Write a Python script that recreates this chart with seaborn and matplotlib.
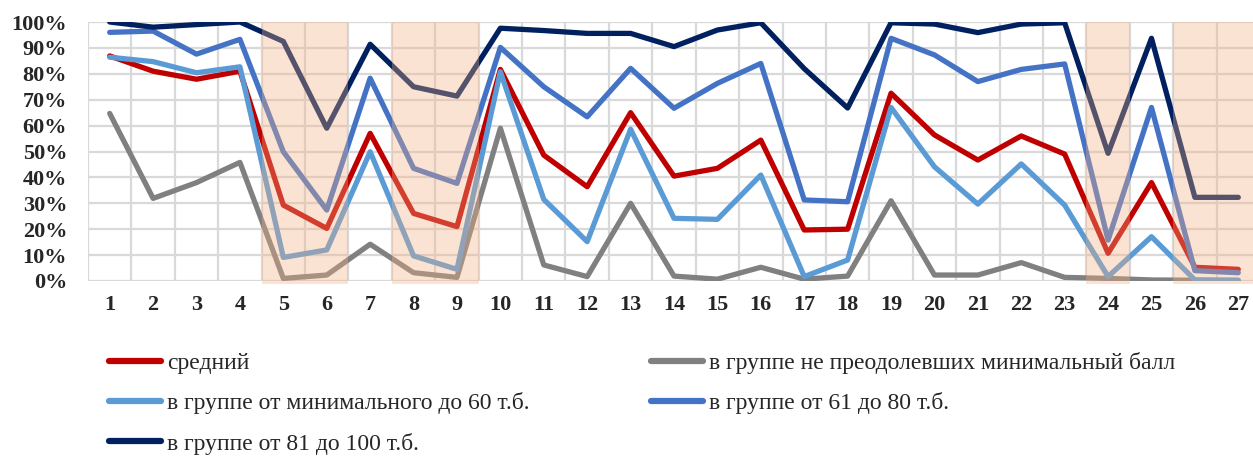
import numpy as np
import pandas as pd
import matplotlib
matplotlib.use('Agg')
import matplotlib.pyplot as plt
from matplotlib.lines import Line2D
import seaborn as sns

# номера заданий
tasks = list(range(1, 28))

srednij = [86.9, 81.0, 77.9, 81.0, 29.3, 20.3, 57.0, 26.1, 21.0, 81.7, 48.6, 36.4, 65.0, 40.5,
           43.5, 54.4, 19.7, 20.0, 72.5, 56.4, 46.7, 56.0, 49.0, 10.7, 38.0, 5.3, 4.5]
ne_preodol = [64.7, 31.9, 38.0, 45.8, 1.0, 2.3, 14.2, 3.2, 1.4, 59.0, 6.2, 1.7, 30.0, 1.9,
              0.7, 5.3, 0.7, 1.9, 31.0, 2.3, 2.3, 7.1, 1.4, 1.0, 0.4, 0.3, 0.2]
ot_min_60 = [86.4, 84.7, 80.4, 82.7, 9.1, 12.0, 49.9, 9.7, 4.5, 80.8, 31.5, 15.2, 58.6, 24.2,
             23.8, 40.9, 1.7, 8.1, 67.0, 44.1, 29.7, 45.2, 29.3, 1.7, 17.1, 0.4, 0.3]
ot_61_80 = [96.0, 96.5, 87.6, 93.3, 49.9, 27.4, 78.3, 43.5, 37.7, 90.2, 75.0, 63.4, 82.1, 66.7,
            76.3, 84.0, 31.3, 30.6, 93.7, 87.3, 77.0, 81.7, 83.8, 15.8, 67.0, 4.0, 3.2]
ot_81_100 = [100.0, 98.0, 99.0, 100.0, 92.5, 59.0, 91.4, 75.0, 71.4, 97.6, 96.7, 95.6, 95.6, 90.5,
             96.9, 99.7, 82.0, 66.8, 99.7, 99.2, 95.9, 99.2, 99.7, 49.3, 93.7, 32.3, 32.3]

# выделенные задания
highlight = [5, 6, 8, 9, 24, 26, 27]

series_names = ['средний',
                'в группе не преодолевших минимальный балл',
                'в группе от минимального до 60 т.б.',
                'в группе от 61 до 80 т.б.',
                'в группе от 81 до 100 т.б.']
colors = ['#C00000', '#808080', '#5B9BD5', '#4472C4', '#002060']

df = pd.DataFrame({'task': tasks * 5,
                   'value': np.array(srednij + ne_preodol + ot_min_60 + ot_61_80 + ot_81_100) / 100,
                   'series': np.repeat(series_names, len(tasks))})

sns.set_style('white')
plt.rcParams['font.family'] = ['Liberation Serif', 'DejaVu Serif']

fig = plt.figure(figsize=(12.53, 4.57), dpi=100)
ax = fig.add_axes([88 / 1253, 1 - 281 / 457, 1172 / 1253, 259 / 457])

sns.lineplot(data=df, x='task', y='value', hue='series', hue_order=series_names,
             palette=colors, linewidth=3.8, sort=False, ax=ax, legend=False, zorder=3)

for t in highlight:
    ax.axvspan(t - 0.5, t + 0.5, ymin=-0.012, ymax=1, color='#F4B183', alpha=0.35,
               lw=0, zorder=5, clip_on=False)

ax.set_xlim(0.5, 27.5)
ax.set_ylim(0, 1)
ax.set_xticks(tasks)
ax.set_xticks(np.arange(0.5, 28, 1), minor=True)
ax.set_yticks(np.arange(0, 1.01, 0.1))
ax.set_yticklabels([f'{int(round(v * 100))}%' for v in np.arange(0, 1.01, 0.1)])
ax.grid(axis='y', which='major', color='#D9D9D9', lw=1.6, zorder=0)
ax.grid(axis='x', which='minor', color='#D9D9D9', lw=1.6, zorder=0)
ax.grid(axis='x', which='major', visible=False)
ax.tick_params(axis='both', which='both', length=0)
ax.tick_params(axis='y', pad=15, labelsize=16)
ax.tick_params(axis='x', pad=10, labelsize=16)
for lbl in ax.get_xticklabels() + ax.get_yticklabels():
    lbl.set_fontweight('bold')
for s in ax.spines.values():
    s.set_visible(False)
ax.set_xlabel('')
ax.set_ylabel('')

handles = [Line2D([], [], color=c, lw=4.5) for c in colors]
order = [0, 2, 4, 1, 3]
fig.legend([handles[i] for i in order], [series_names[i] for i in order],
           loc='upper left', bbox_to_anchor=(97 / 1253, 1 - 340 / 457), ncol=2,
           frameon=False, fontsize=17, handlelength=2.2, handletextpad=0.25,
           columnspacing=5.15, labelspacing=0.78, borderpad=0)

fig.savefig('out.png', dpi=100)
